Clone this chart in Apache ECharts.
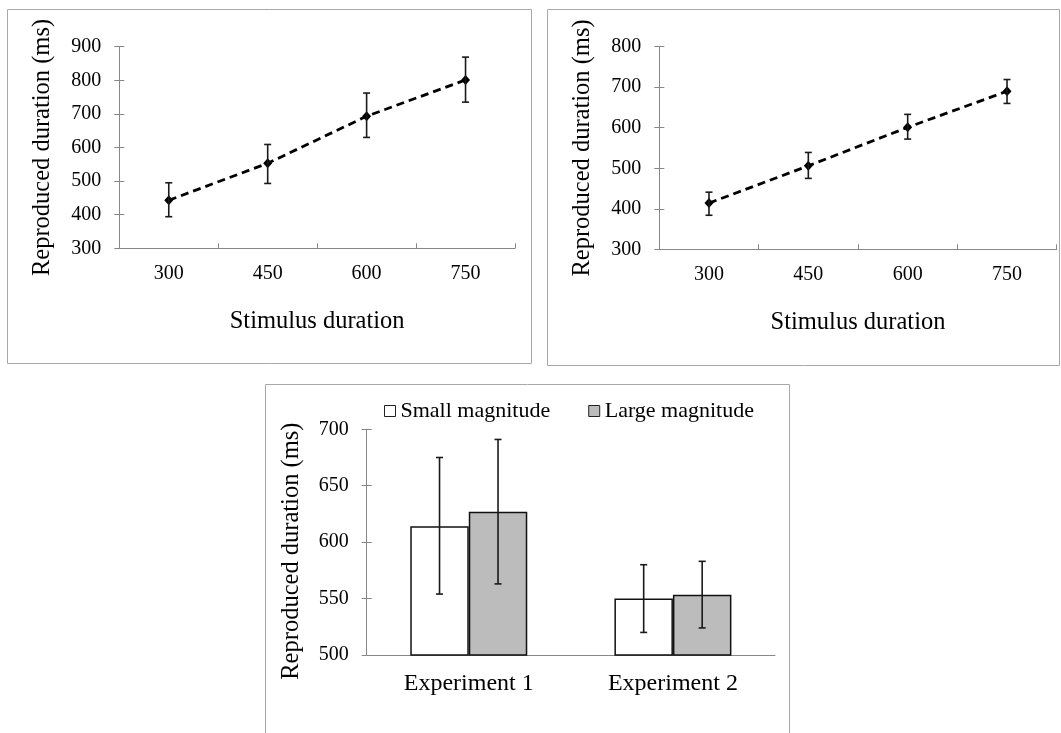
<!DOCTYPE html>
<html>
<head>
<meta charset="utf-8">
<script src="https://cdn.jsdelivr.net/npm/echarts@6/dist/echarts.min.js"></script>
<style>
  html, body { margin: 0; padding: 0; background: #fff; }
  #chart { width: 1061px; height: 733px; }
</style>
</head>
<body>
<div id="chart"></div>
<script>
// data
const durCats = ['300', '450', '600', '750']
const expCats = ['Experiment 1', 'Experiment 2']

// top left panel
const exp1Mean = [443, 553, 693, 801]
const exp1Lo = [394, 493, 630, 735]
const exp1Hi = [495, 609, 762, 869]

// top right panel
const exp2Mean = [414, 506, 601, 690]
const exp2Lo = [384, 475, 572, 660]
const exp2Hi = [441, 539, 633, 719]

// bottom panel
const smallMean = [614, 550]
const smallLo = [554, 520]
const smallHi = [675, 580]
const largeMean = [627, 553.5]
const largeLo = [563, 524]
const largeHi = [691, 583]

const FONT = 'Liberation Serif'
const TEXT = '#000'
const AXIS_COLOR = '#878787'
const BAR_W = 58.5

const chart = echarts.init(document.getElementById('chart'))

// error bar drawn through the axes, shift = horizontal offset from category centre
const errorBar = (shift) => (params, api) => {
  const x = api.value(0)
  const top = api.coord([x, api.value(2)])
  const bot = api.coord([x, api.value(1)])
  const cx = top[0] + shift
  const cap = 3.5
  const style = { stroke: '#1a1a1a', lineWidth: 1.6 }
  return {
    type: 'group',
    children: [
      { type: 'line', shape: { x1: cx, y1: top[1], x2: cx, y2: bot[1] }, style },
      { type: 'line', shape: { x1: cx - cap, y1: top[1], x2: cx + cap, y2: top[1] }, style },
      { type: 'line', shape: { x1: cx - cap, y1: bot[1], x2: cx + cap, y2: bot[1] }, style }
    ]
  }
}

const errData = (lo, hi) => lo.map((v, i) => [i, v, hi[i]])

const catAxis = (grid, data, opts) => Object.assign({
  type: 'category', gridIndex: grid, data, position: 'bottom',
  axisLine: { lineStyle: { color: AXIS_COLOR, width: 1 } },
  axisTick: { length: 5, lineStyle: { color: AXIS_COLOR } },
  axisLabel: { color: TEXT, fontFamily: FONT, fontSize: 20, margin: 15 },
  splitLine: { show: false }
}, opts)

const valAxis = (grid, min, max, interval, gap, namePad) => ({
  type: 'value', gridIndex: grid, min, max, interval, position: 'left',
  name: 'Reproduced duration (ms)', nameLocation: 'middle', nameGap: gap,
  nameTextStyle: { color: TEXT, fontFamily: FONT, fontSize: 24.5, padding: namePad || 0 },
  axisLine: { show: true, lineStyle: { color: AXIS_COLOR } },
  axisTick: { show: true, length: 5, lineStyle: { color: AXIS_COLOR } },
  axisLabel: { color: TEXT, fontFamily: FONT, fontSize: 20, margin: 18 },
  splitLine: { show: false }
})

// bare copies with inside ticks so the ticks cross the axis line
const innerTicksY = (grid, min, max, interval) => ({
  type: 'value', gridIndex: grid, min, max, interval, position: 'left',
  axisLine: { show: false },
  axisTick: { show: true, inside: true, length: 5, lineStyle: { color: AXIS_COLOR } },
  axisLabel: { show: false }, splitLine: { show: false }
})
const innerTicksX = (grid, data) => ({
  type: 'category', gridIndex: grid, data, position: 'bottom',
  axisLine: { show: false },
  axisTick: { show: true, inside: true, length: 5, lineStyle: { color: AXIS_COLOR } },
  axisLabel: { show: false }, splitLine: { show: false }
})

const panel = (x, y, w, h) => ({
  type: 'rect', silent: true, z: -1,
  shape: { x, y, width: w, height: h },
  style: { fill: 'none', stroke: '#a8a8a8', lineWidth: 1 }
})

const lineSeries = (xi, yi, data) => ({
  type: 'line', xAxisIndex: xi, yAxisIndex: yi, data,
  symbol: 'diamond', symbolSize: [9, 10],
  lineStyle: { color: '#000', width: 2.8, type: [8, 5] },
  itemStyle: { color: '#000' }, z: 3
})

const durName = {
  name: 'Stimulus duration', nameLocation: 'middle', nameGap: 61,
  nameTextStyle: { color: TEXT, fontFamily: FONT, fontSize: 24.5 }
}

chart.setOption({
  animation: false,
  graphic: [
    panel(7.5, 9.5, 524, 354),
    panel(547.5, 9.5, 512, 356),
    panel(265.5, 384.5, 524, 360)
  ],
  grid: [
    { left: 119.3, top: 46.7, width: 395.7, height: 201.6 },
    { left: 659.3, top: 46.7, width: 397.4, height: 202.6 },
    { left: 366.7, top: 429.3, width: 408.3, height: 225.7 }
  ],
  legend: {
    data: ['Small magnitude', 'Large magnitude'],
    left: 379, top: 395,
    icon: 'rect', itemWidth: 11, itemHeight: 11, itemGap: 38,
    itemStyle: { borderColor: '#222', borderWidth: 1 },
    textStyle: { color: TEXT, fontFamily: FONT, fontSize: 22 }
  },
  xAxis: [
    catAxis(0, durCats, durName),
    innerTicksX(0, durCats),
    catAxis(1, durCats, durName),
    innerTicksX(1, durCats),
    catAxis(2, expCats, {
      axisTick: { length: 7, lineStyle: { color: AXIS_COLOR } },
      axisLabel: { color: TEXT, fontFamily: FONT, fontSize: 24, margin: 17 }
    })
  ],
  yAxis: [
    valAxis(0, 300, 900, 100, 64),
    innerTicksY(0, 300, 900, 100),
    valAxis(1, 300, 800, 100, 64),
    innerTicksY(1, 300, 800, 100),
    valAxis(2, 500, 700, 50, 63, [0, 18, 0, 0]),
    innerTicksY(2, 500, 700, 50)
  ],
  series: [
    lineSeries(0, 0, exp1Mean),
    {
      type: 'custom', xAxisIndex: 0, yAxisIndex: 0, z: 4,
      renderItem: errorBar(0), data: errData(exp1Lo, exp1Hi),
      encode: { x: 0, y: [1, 2] }
    },
    lineSeries(2, 2, exp2Mean),
    {
      type: 'custom', xAxisIndex: 2, yAxisIndex: 2, z: 4,
      renderItem: errorBar(0), data: errData(exp2Lo, exp2Hi),
      encode: { x: 0, y: [1, 2] }
    },
    {
      name: 'Small magnitude', type: 'bar', xAxisIndex: 4, yAxisIndex: 4,
      data: smallMean, barWidth: BAR_W, barGap: '0%',
      itemStyle: { color: '#ffffff', borderColor: '#111', borderWidth: 1.5 }
    },
    {
      name: 'Large magnitude', type: 'bar', xAxisIndex: 4, yAxisIndex: 4,
      data: largeMean, barWidth: BAR_W, barGap: '0%',
      itemStyle: { color: '#bcbcbc', borderColor: '#111', borderWidth: 1.5 }
    },
    {
      type: 'custom', xAxisIndex: 4, yAxisIndex: 4, z: 4,
      renderItem: errorBar(-BAR_W / 2), data: errData(smallLo, smallHi),
      encode: { x: 0, y: [1, 2] }
    },
    {
      type: 'custom', xAxisIndex: 4, yAxisIndex: 4, z: 4,
      renderItem: errorBar(BAR_W / 2), data: errData(largeLo, largeHi),
      encode: { x: 0, y: [1, 2] }
    }
  ]
})
</script>
</body>
</html>
